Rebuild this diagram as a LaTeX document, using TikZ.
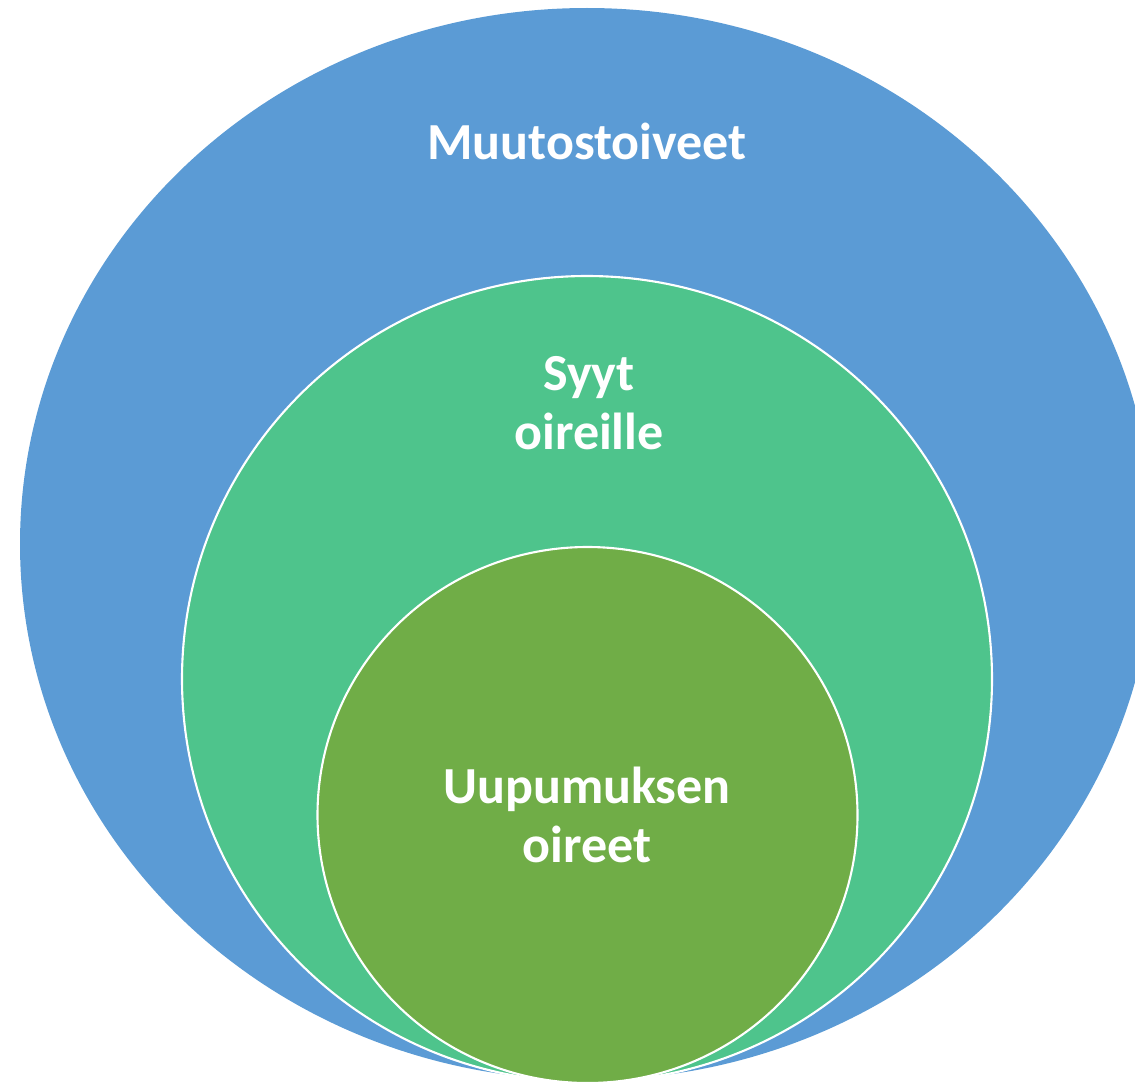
\documentclass[tikz,border=0pt]{standalone}
\usepackage{fontspec}
\setmainfont{Carlito}
\usepackage{tikz}
\usetikzlibrary{shapes.geometric,positioning}

\definecolor{outerblue}{HTML}{5B9BD5}
\definecolor{midgreen}{HTML}{4EC48C}
\definecolor{innergreen}{HTML}{70AD47}

\begin{document}
\begin{tikzpicture}[
    x=0.025cm, y=-0.025cm,
    ring/.style={ellipse, draw=white, line width=1.5pt, inner sep=0pt, outer sep=0pt},
    caption/.style={text=white, font=\fontsize{37}{42}\selectfont\bfseries, align=center}
]

% Canvas
\useasboundingbox (0,0) rectangle (1135,1084);
\clip (0,0) rectangle (1135,1084);

% Nested rings
\node[ring, draw=none, fill=outerblue, minimum width=1134*0.025cm, minimum height=1072*0.025cm] (wishes) at (587,544) {};
\node[ring, fill=midgreen, minimum width=810*0.025cm, minimum height=806*0.025cm] (causes) at (587,679) {};
\node[ring, fill=innergreen, minimum width=540*0.025cm, minimum height=536*0.025cm] (symptoms) at (587.5,815) {};

% Labels
\node[caption] (wishes_txt) at (587,141) {Muutostoiveet};
\node[caption] (causes_txt) at (589,403) {Syyt\\oireille};
\node[caption] (symptoms_txt) at (587,815) {Uupumuksen\\oireet};

\end{tikzpicture}
\end{document}
